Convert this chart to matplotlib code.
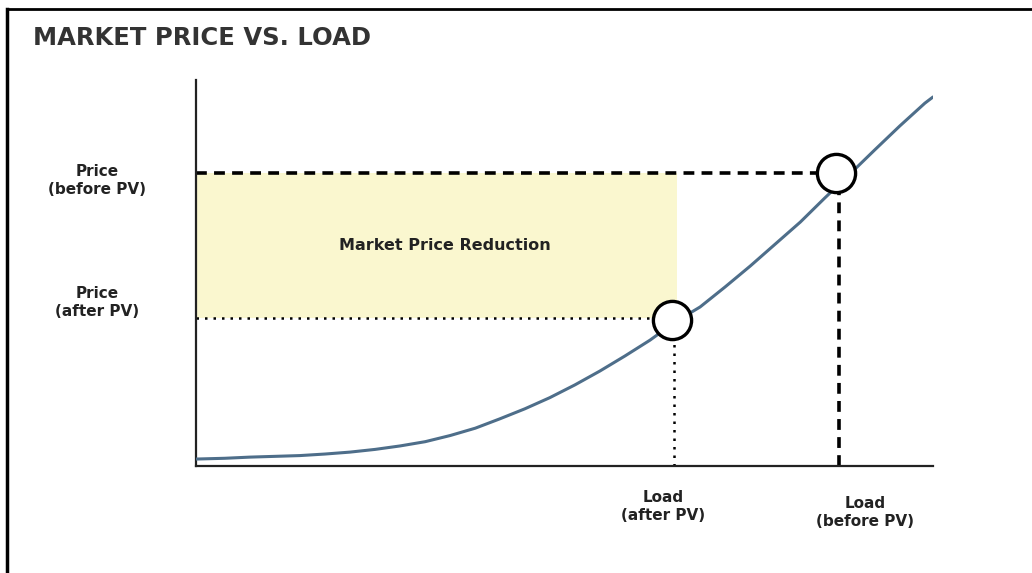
import matplotlib.pyplot as plt
from matplotlib.lines import Line2D
from matplotlib.patches import Rectangle

# supply curve (load on x, price on y, both 0-100)
load = [0, 3.9, 7.3, 10.7, 14.1, 17.5, 20.9, 24.3, 27.7, 31.1, 34.5, 37.9, 41.2, 44.6,
        48.0, 51.4, 54.8, 58.2, 61.6, 65.0, 68.4, 71.8, 75.2, 78.6, 82.0, 85.3, 88.7,
        92.1, 95.5, 98.9, 100]
price = [1.8, 2.0, 2.3, 2.5, 2.7, 3.1, 3.6, 4.3, 5.2, 6.3, 7.9, 9.8, 12.2, 14.8,
         17.7, 21.0, 24.6, 28.5, 32.6, 37.3, 41.2, 46.4, 51.8, 57.5, 63.2, 69.4, 75.6,
         81.9, 88.1, 94.0, 95.6]

# operating points
load_before, price_before = 86.8, 75.9
load_after, price_after = 64.6, 37.8
line_before_x = 87.2
line_after_x, line_after_y = 64.9, 38.3
shade_right = 65.3

title = "MARKET PRICE VS. LOAD"
shade_label = "Market Price Reduction"
y_labels = ["Price\n(before PV)", "Price\n(after PV)"]
x_labels = ["Load\n(after PV)", "Load\n(before PV)"]

plt.rcParams['font.family'] = ['DejaVu Sans']

fig = plt.figure(figsize=(10.32, 5.73), dpi=100)
ax = fig.add_axes([196/1032, 107/573, 737/1032, 386/573])
ax.set_xlim(0, 100)
ax.set_ylim(0, 100)

ax.add_patch(Rectangle((0, line_after_y), shade_right, price_before - line_after_y,
                       facecolor='#faf7cf', edgecolor='none', zorder=1))
ax.text(33.8, 57, shade_label, ha='center', va='center',
        fontsize=11.5, fontweight='bold', color='#222222')

ax.plot(load, price, color='#4e6e8a', lw=2.2, zorder=3, solid_capstyle='round',
        solid_joinstyle='round')

# guide lines
ax.plot([0, load_before], [price_before, price_before], color='black', lw=2.6,
        dashes=(3, 2), zorder=2)
ax.plot([line_before_x, line_before_x], [0, price_before - 5], color='black', lw=2.6,
        dashes=(3, 2), zorder=2)
ax.plot([0, load_after], [line_after_y, line_after_y], color='black', lw=1.8,
        dashes=(1, 2.4), zorder=2)
ax.plot([line_after_x, line_after_x], [0, line_after_y - 5], color='black', lw=1.8,
        dashes=(1, 2.4), zorder=2)

ax.plot([load_before, load_after], [price_before, price_after], ls='none', marker='o',
        ms=27.5, mfc='white', mec='black', mew=2.4, zorder=4)

for s in ['top', 'right']:
    ax.spines[s].set_visible(False)
for s in ['left', 'bottom']:
    ax.spines[s].set_linewidth(1.6)
    ax.spines[s].set_color('#222222')
ax.set_xticks([])
ax.set_yticks([])

lab = dict(ha='center', va='center', fontsize=11, fontweight='bold', color='#222222',
           linespacing=1.25)
fig.text(97/1032, 1 - 180/573, y_labels[0], **lab)
fig.text(97/1032, 1 - 303/573, y_labels[1], **lab)
fig.text(663/1032, 1 - 507/573, x_labels[0], **lab)
fig.text(865/1032, 1 - 512/573, x_labels[1], **lab)

fig.text(33/1032, 1 - 38/573, title, ha='left', va='center', fontsize=17.5,
         fontweight='bold', color='#333333')

# frame lines at the top and left of the picture
fig.add_artist(Line2D([7/1032, 7/1032], [0, 1 - 9/573], color='black', lw=2.5))
fig.add_artist(Line2D([7/1032, 1], [1 - 9/573, 1 - 9/573], color='black', lw=2))

fig.savefig('out.png', dpi=100)
